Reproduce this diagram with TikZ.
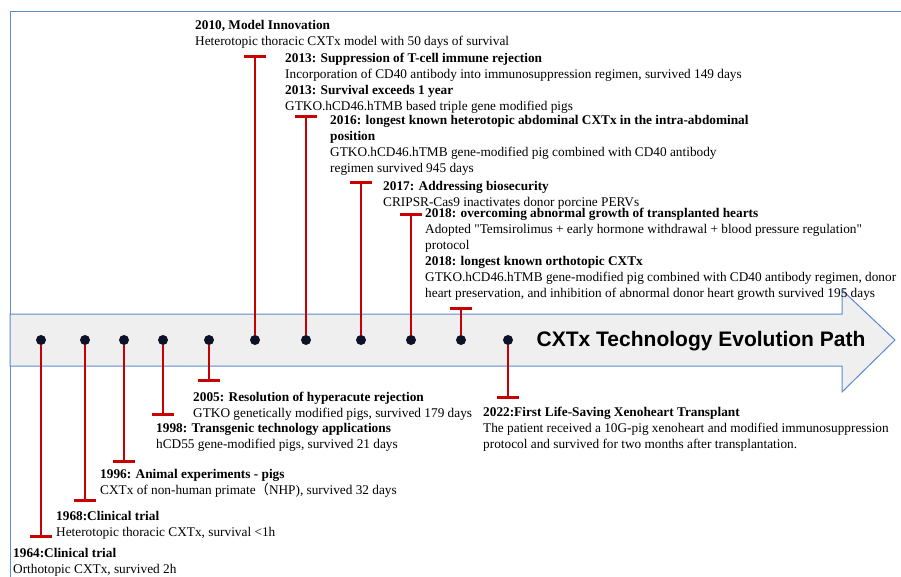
\documentclass[tikz,border=0pt]{standalone}
\usepackage{fontspec}
\setmainfont{Liberation Serif}
\setsansfont{Liberation Sans}
\newfontfamily\cjk{Noto Sans CJK SC}
\usetikzlibrary{arrows.meta}
\definecolor{stemred}{HTML}{C80000}
\definecolor{pathblue}{HTML}{5B8AD0}
\definecolor{pathgray}{HTML}{EFEFEF}
\definecolor{dotnavy}{HTML}{0E1229}

\begin{document}
\begin{tikzpicture}[x=1pt, y=-1pt,
    dot/.style={circle, fill=dotnavy, inner sep=0pt, minimum size=10pt},
    stem/.style={-{Bar[width=22pt]}, line width=2.6pt, draw=stemred},
    evt/.style={anchor=north west, inner sep=0pt, align=left, yshift=4.7pt, font=\fontsize{13.3}{16}\selectfont, execute at begin node=\strut},
    frame/.style={draw=pathblue, line width=1pt}
]
    \useasboundingbox (0,0) rectangle (901,577);
    \draw[frame] (10,577) -- (10,12) -- (901,12);
    \draw[frame, fill=pathgray] (10,314) -- (842,314) -- (842,290) -- (895,340) -- (842,392) -- (842,366) -- (10,366) -- cycle;
    \node[font=\sffamily\bfseries\fontsize{21}{25}\selectfont] (title) at (701,341) {CXTx Technology Evolution Path};

    \foreach \x/\e [count=\i] in {41/538, 85/502, 124/463, 163/416, 209/382, 255/55, 306/115, 361/181, 411/213, 461/307, 508/399} {
        \node[dot] (d\i) at (\x,340) {};
        \coordinate (b\i) at (\x,\e);
        \draw[stem] (d\i) -- (b\i);
    }

    \node[evt] (e1964) at (13,553) {\textbf{1964:Clinical trial}\\Orthotopic CXTx, survived 2h};
    \node[evt] (e1968) at (56,516) {\textbf{1968:Clinical trial}\\Heterotopic thoracic CXTx, survival <1h};
    \node[evt] (e1996) at (100,474) {\textbf{1996: Animal experiments - pigs}\\CXTx of non-human primate{\cjk （}NHP), survived 32 days};
    \node[evt] (e1998) at (156,428) {\textbf{1998: Transgenic technology applications}\\hCD55 gene-modified pigs, survived 21 days};
    \node[evt] (e2005) at (193,397) {\textbf{2005: Resolution of hyperacute rejection}\\GTKO genetically modified pigs, survived 179 days};
    \node[evt] (e2022) at (483,412) {\textbf{2022:First Life-Saving Xenoheart Transplant}\\The patient received a 10G-pig xenoheart and modified immunosuppression\\protocol and survived for two months after transplantation.};

    \node[evt] (e2010) at (195,25) {\textbf{2010, Model Innovation}\\Heterotopic thoracic CXTx model with 50 days of survival};
    \node[evt] (e2013a) at (285,58) {\textbf{2013: Suppression of T-cell immune rejection}\\Incorporation of CD40 antibody into immunosuppression regimen, survived 149 days};
    \node[evt] (e2013b) at (285,90) {\textbf{2013: Survival exceeds 1 year}\\GTKO.hCD46.hTMB based triple gene modified pigs};
    \node[evt] (e2016) at (330,120) {\textbf{2016: longest known heterotopic abdominal CXTx in the intra-abdominal}\\\textbf{position}\\GTKO.hCD46.hTMB gene-modified pig combined with CD40 antibody\\regimen survived 945 days};
    \node[evt] (e2017) at (383,186) {\textbf{2017: Addressing biosecurity}\\CRIPSR-Cas9 inactivates donor porcine PERVs};
    \node[evt] (e2018a) at (425,213) {\textbf{2018: overcoming abnormal growth of transplanted hearts}\\Adopted \textquotedbl Temsirolimus + early hormone withdrawal + blood pressure regulation\textquotedbl\\protocol};
    \node[evt] (e2018b) at (425,261) {\textbf{2018: longest known orthotopic CXTx}\\GTKO.hCD46.hTMB gene-modified pig combined with CD40 antibody regimen, donor\\heart preservation, and inhibition of abnormal donor heart growth survived 195 days};
\end{tikzpicture}
\end{document}
